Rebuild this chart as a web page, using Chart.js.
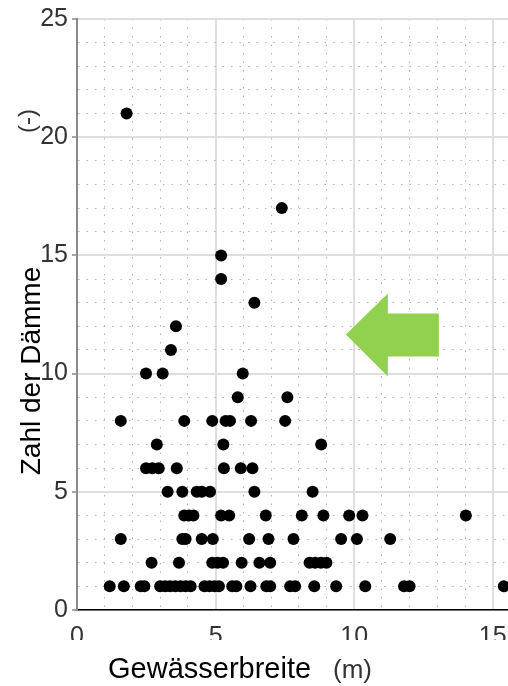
<!DOCTYPE html>
<html lang="de">
<head>
<meta charset="UTF-8" />
<title>Zahl der Dämme vs. Gewässerbreite</title>
<script src="https://cdn.jsdelivr.net/npm/chart.js"></script>
<style>
  html, body { margin: 0; padding: 0; background: #fff; }
  canvas { display: block; }
</style>
</head>
<body>
<canvas id="scatter" width="508" height="686"></canvas>
<script>
  // Zahl der Dämme (y) and the Gewässerbreite values (m) read for each count
  const damCounts = [21, 17, 15, 14, 13, 12, 11, 10, 9, 8, 7, 6, 5, 4, 3, 2, 1];
  const widthRows = [
    [1.79],
    [7.39],
    [5.2],
    [5.2],
    [6.4],
    [3.57],
    [3.39],
    [2.49, 3.09, 5.98],
    [5.8, 7.59],
    [1.58, 3.87, 4.88, 5.36, 5.52, 6.28, 7.51],
    [2.88, 5.28, 8.81],
    [2.49, 2.72, 2.95, 3.6, 5.3, 5.91, 6.33],
    [3.27, 3.8, 4.32, 4.5, 4.8, 6.4, 8.5],
    [3.87, 4.04, 4.2, 5.2, 5.49, 6.81, 8.11, 8.89, 9.82, 10.3, 14.03],
    [1.58, 3.8, 3.92, 4.5, 4.9, 6.21, 6.91, 7.81, 9.53, 10.1, 11.3],
    [2.69, 3.68, 4.88, 5.07, 5.27, 5.94, 6.58, 6.97, 8.39, 8.59, 8.8, 9.0],
    [1.18, 1.69, 2.3, 2.43, 3.0, 3.18, 3.36, 3.55, 3.74, 3.92, 4.1, 4.6, 4.78,
     4.96, 5.12, 5.6, 5.75, 6.26, 6.83, 6.97, 7.69, 7.87, 8.56, 9.35, 10.4, 11.8, 12.0, 15.4]
  ];
  const xTicks = [0, 5, 10, 15];
  const yTicks = [0, 5, 10, 15, 20, 25];

  const points = [];
  damCounts.forEach((n, i) => {
    widthRows[i].forEach(w => points.push({ x: w, y: n }));
  });

  const FONT = "'Liberation Sans', Arial, sans-serif";
  const isMajor = (ctx, list) => ctx.tick !== undefined && list.includes(ctx.tick.value);

  // axis titles drawn by hand (label and unit sit apart, unit is greyer)
  const axisTitles = {
    id: 'axisTitles',
    afterDraw(chart) {
      const ctx = chart.ctx;
      ctx.save();
      // the title box covers the lower part of the x tick labels
      ctx.fillStyle = '#fff';
      ctx.fillRect(0, 640, chart.width, chart.height - 640);

      ctx.textBaseline = 'alphabetic';
      ctx.fillStyle = '#000';
      ctx.font = '29px ' + FONT;
      ctx.textAlign = 'left';
      ctx.fillText('Gewässerbreite', 108, 678);
      ctx.fillStyle = '#333';
      ctx.font = '26px ' + FONT;
      ctx.fillText('(m)', 333, 678);

      ctx.rotate(-Math.PI / 2);
      ctx.textAlign = 'center';
      ctx.fillStyle = '#000';
      ctx.font = '28px ' + FONT;
      ctx.fillText('Zahl der Dämme', -371, 40);
      ctx.fillStyle = '#333';
      ctx.font = '24px ' + FONT;
      ctx.fillText('(-)', -121, 35);
      ctx.restore();
    }
  };

  // green arrow pointing left, tip anchored in data units
  const arrow = {
    id: 'arrow',
    afterDatasetsDraw(chart) {
      const { ctx, scales } = chart;
      const tx = scales.x.getPixelForValue(9.7);
      const ty = scales.y.getPixelForValue(11.65);
      ctx.save();
      ctx.fillStyle = '#92d050';
      ctx.beginPath();
      ctx.moveTo(tx, ty);
      ctx.lineTo(tx + 42, ty - 41);
      ctx.lineTo(tx + 42, ty - 21);
      ctx.lineTo(tx + 93, ty - 21);
      ctx.lineTo(tx + 93, ty + 22);
      ctx.lineTo(tx + 42, ty + 22);
      ctx.lineTo(tx + 42, ty + 42);
      ctx.closePath();
      ctx.fill();
      ctx.restore();
    }
  };

  new Chart(document.getElementById('scatter'), {
    type: 'scatter',
    data: {
      datasets: [{
        data: points,
        backgroundColor: '#000',
        borderWidth: 0,
        pointRadius: 6,
        pointHoverRadius: 6
      }]
    },
    options: {
      responsive: false,
      animation: false,
      layout: { autoPadding: false, padding: { top: 17, right: 0, bottom: 0, left: 0 } },
      plugins: {
        legend: { display: false },
        tooltip: { enabled: false }
      },
      scales: {
        x: {
          type: 'linear',
          min: 0,
          max: 15.55,
          afterFit: s => {
            s.height = 76;
            s.paddingLeft = 0;
            s.paddingRight = 0;
          },
          ticks: {
            stepSize: 1,
            includeBounds: false,
            autoSkip: false,
            maxRotation: 0,
            minRotation: 0,
            padding: 12,
            color: '#333',
            font: { family: FONT, size: 25 },
            callback: v => xTicks.includes(v) ? v : ''
          },
          grid: {
            drawTicks: false,
            color: c => isMajor(c, xTicks) ? '#dedede' : '#b5b5b5',
            lineWidth: c => isMajor(c, xTicks) ? 2 : 1
          },
          border: {
            color: '#000',
            width: 1.5,
            dash: c => (c.tick === undefined || isMajor(c, xTicks)) ? [] : [1.5, 7]
          }
        },
        y: {
          type: 'linear',
          min: 0,
          max: 25,
          afterFit: s => { s.width = 77; },
          ticks: {
            stepSize: 1,
            autoSkip: false,
            padding: 4,
            color: '#333',
            font: { family: FONT, size: 25 },
            callback: v => yTicks.includes(v) ? v : ''
          },
          grid: {
            tickLength: 5,
            tickWidth: 1.5,
            tickColor: c => isMajor(c, yTicks) ? '#888' : 'rgba(0,0,0,0)',
            color: c => isMajor(c, yTicks) ? '#dedede' : '#b5b5b5',
            lineWidth: c => isMajor(c, yTicks) ? 2 : 1
          },
          border: {
            color: '#8a8a8a',
            width: 2,
            dash: c => (c.tick === undefined || isMajor(c, yTicks)) ? [] : [1.5, 7]
          }
        }
      }
    },
    plugins: [arrow, axisTitles]
  });
</script>
</body>
</html>
